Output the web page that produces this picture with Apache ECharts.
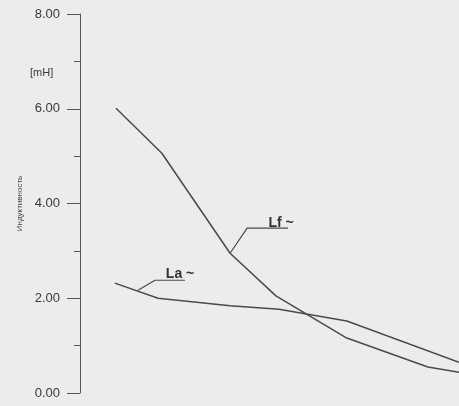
<!DOCTYPE html>
<html>
<head>
<meta charset="utf-8">
<script src="https://cdn.jsdelivr.net/npm/echarts@6/dist/echarts.min.js"></script>
<style>
html,body{margin:0;padding:0;background:#ececea;}
#c{width:459px;height:406px;}
</style>
</head>
<body>
<div id="c"></div>
<script>
// Data (x in arbitrary relative units 0..100, y in mH)
const lfX = [9.5, 21.6, 39.6, 51.7, 70.4, 91.8, 100];
const lfY = [6.01, 5.06, 2.95, 2.05, 1.16, 0.55, 0.44];
const laX = [9.2, 20.6, 39.6, 52.5, 70.4, 100];
const laY = [2.32, 2.00, 1.84, 1.77, 1.52, 0.65];
const lfLeader = [[39.6, 2.95], [44.1, 3.48], [54.9, 3.48]];
const laLeader = [[15.3, 2.17], [19.8, 2.38], [27.7, 2.38]];
const yTicks = [0, 2, 4, 6, 8];
const unitLabel = '[mH]';
const axisName = 'Индуктивность';

const zip = (xs, ys) => xs.map((x, i) => [x, ys[i]]);
const ink = '#4a4a4a';
const lblStyle = {fontFamily: 'Liberation Sans', fontWeight: 'bold', fontSize: 14, color: '#333'};

function leaderData(pts, text, offset) {
  return pts.map((p, i) => i === 1
    ? {value: p, label: Object.assign({show: true, position: 'top', offset: offset, formatter: text}, lblStyle)}
    : p);
}

const chart = echarts.init(document.getElementById('c'));
chart.setOption({
  backgroundColor: '#ececea',
  animation: false,
  grid: {left: 80, right: 0, top: 14, bottom: 13},
  xAxis: {type: 'value', min: 0, max: 100, show: false},
  yAxis: {
    type: 'value', min: yTicks[0], max: yTicks[yTicks.length - 1], interval: 2,
    name: axisName, nameLocation: 'middle', nameGap: 56, nameRotate: 90,
    nameTextStyle: {fontFamily: 'Liberation Sans', fontSize: 8, color: '#444'},
    axisLine: {show: true, lineStyle: {color: '#555', width: 1}},
    axisTick: {show: true, length: 13, lineStyle: {color: '#555'}},
    minorTick: {show: true, splitNumber: 2, length: 6, lineStyle: {color: '#555'}},
    splitLine: {show: false},
    axisLabel: {margin: 20, fontFamily: 'Liberation Sans', fontSize: 13, color: '#3a3a3a',
      formatter: v => v.toFixed(2)}
  },
  graphic: [{type: 'text', left: 30, top: 67,
    style: {text: unitLabel, fontFamily: 'Liberation Sans', fontSize: 11, fill: '#3a3a3a'}}],
  series: [
    {type: 'line', data: zip(lfX, lfY), symbol: 'none', lineStyle: {color: ink, width: 1.5}},
    {type: 'line', data: zip(laX, laY), symbol: 'none', lineStyle: {color: ink, width: 1.5}},
    {type: 'line', symbol: 'circle', symbolSize: 0.01, showSymbol: true, itemStyle: {color: ink},
      lineStyle: {color: ink, width: 1.2}, data: leaderData(lfLeader, 'Lf ~', [34, 7])},
    {type: 'line', symbol: 'circle', symbolSize: 0.01, showSymbol: true, itemStyle: {color: ink},
      lineStyle: {color: ink, width: 1.2}, data: leaderData(laLeader, 'La ~', [25, 6])}
  ]
});
</script>
</body>
</html>
